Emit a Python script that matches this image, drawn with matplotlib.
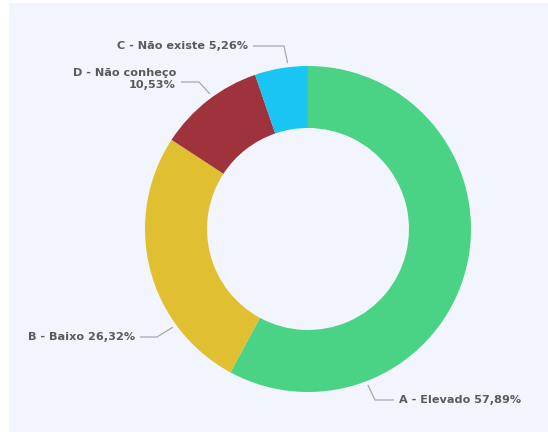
import numpy as np
import matplotlib.pyplot as plt
from matplotlib.patches import Rectangle

# data
categories = ['A - Elevado', 'B - Baixo', 'D - Não conheço', 'C - Não existe']
shares = [57.89, 26.32, 10.53, 5.26]
colors = ['#4ad384', '#e0bf30', '#9e333b', '#18c5f3']

W, H = 548, 443
cx, cy = 308, H - 229
R, ring = 163, 62

fig = plt.figure(figsize=(W / 100, H / 100), dpi=100)
fig.patch.set_facecolor('white')

ax = fig.add_axes([0, 0, 1, 1])
ax.patch.set_alpha(0)
# light panel behind the visual
ax.add_patch(Rectangle((9, 11), W - 9, H - 14, facecolor='#f2f5fd',
                       edgecolor='none', zorder=-5))
ax.pie(shares, colors=colors, startangle=90, counterclock=False,
       center=(cx, cy), radius=R,
       wedgeprops=dict(width=ring, edgecolor='none'))
ax.set_xlim(0, W)
ax.set_ylim(0, H)
ax.set_aspect('auto')
ax.axis('off')


def pct_text(pct):
    return ('%.2f' % pct).replace('.', ',') + '%'


# leader line layout: anchor angle on the ring, elbow, end of line, text side
layout = {
    'A - Elevado': (291, (375, 400), (394, 400), 'left'),
    'B - Baixo': (216, (157, 337), (140, 337), 'right'),
    'D - Não conheço': (126, (199, 82), (181, 82), 'right'),
    'C - Não existe': (97, (284, 46), (253, 46), 'right'),
}

line_col = '#a8a8a8'
txt_col = '#5a5a5a'
for name, pct in zip(categories, shares):
    ang, elbow, end, side = layout[name]
    a = np.deg2rad(ang)
    p0 = (cx + (R + 4) * np.cos(a), cy + (R + 4) * np.sin(a))
    xs = [p0[0], elbow[0], end[0]]
    ys = [p0[1], H - elbow[1], H - end[1]]
    ax.plot(xs, ys, color=line_col, lw=0.9, solid_capstyle='butt')
    if name == 'D - Não conheço':
        txt = name + '\n' + pct_text(pct)
        ty = H - 79
    else:
        txt = name + ' ' + pct_text(pct)
        ty = H - end[1]
    tx = end[0] + 5 if side == 'left' else end[0] - 5
    ax.text(tx, ty, txt, ha=side, va='center', ma='right', fontsize=8.1,
            color=txt_col, fontweight='semibold', linespacing=1.3)

fig.savefig('out.png', dpi=100, facecolor='white')
